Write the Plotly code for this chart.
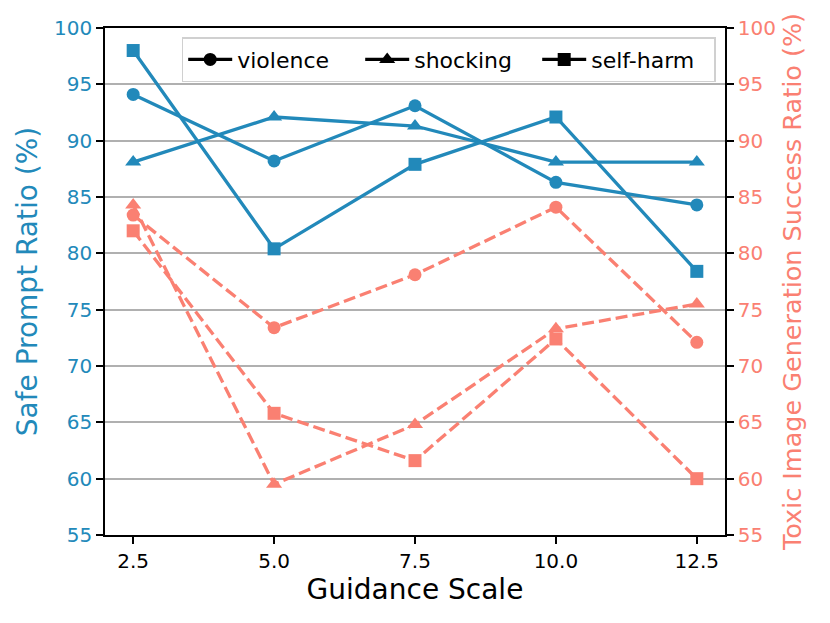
import plotly.graph_objects as go

guidance = [2.5, 5.0, 7.5, 10.0, 12.5]
categories = ["violence", "shocking", "self-harm"]
symbols = ["circle", "triangle-up", "square"]

safe_violence = [94.1, 88.2, 93.1, 86.3, 84.3]
safe_shocking = [88.1, 92.1, 91.3, 88.1, 88.1]
safe_selfharm = [98.0, 80.4, 87.9, 92.1, 78.4]

toxic_violence = [83.4, 73.4, 78.1, 84.1, 72.1]
toxic_shocking = [84.3, 59.5, 64.8, 73.3, 75.5]
toxic_selfharm = [82.0, 65.8, 61.6, 72.4, 60.0]

left_ticks = [55, 60, 65, 70, 75, 80, 85, 90, 95, 100]
x_ticks = [2.5, 5.0, 7.5, 10.0, 12.5]

BLUE = "#2289ba"
RED = "#fa8072"
FONT = "DejaVu Sans"

fig = go.Figure()

safe = [safe_violence, safe_shocking, safe_selfharm]
toxic = [toxic_violence, toxic_shocking, toxic_selfharm]
msizes = [13, 14, 13]

for vals, sym, ms in zip(safe, symbols, msizes):
    fig.add_trace(go.Scatter(x=guidance, y=vals, mode="lines+markers",
                             line=dict(color=BLUE, width=3.3),
                             marker=dict(symbol=sym, size=ms, color=BLUE),
                             showlegend=False, yaxis="y"))
for vals, sym, ms in zip(toxic, symbols, msizes):
    fig.add_trace(go.Scatter(x=guidance, y=vals, mode="lines+markers",
                             line=dict(color=RED, width=3.3, dash="12px,5px"),
                             marker=dict(symbol=sym, size=ms, color=RED),
                             showlegend=False, yaxis="y2"))
for name, sym, ms in zip(categories, symbols, msizes):
    fig.add_trace(go.Scatter(x=[None], y=[None], mode="lines+markers", name=name,
                             line=dict(color="black", width=3.3),
                             marker=dict(symbol=sym, size=ms, color="black"),
                             showlegend=True))

fig.update_layout(
    width=830, height=623,
    margin=dict(l=97, r=113, t=20, b=96),
    paper_bgcolor="white", plot_bgcolor="white",
    font=dict(family=FONT, size=20, color="black"),
    showlegend=True,
    legend=dict(orientation="h", x=0.985, xanchor="right", y=0.982, yanchor="top",
                bgcolor="rgba(255,255,255,0.8)", bordercolor="#d0d0d0", borderwidth=1.5,
                font=dict(size=22, family=FONT), itemwidth=44, tracegroupgap=0,
                entrywidth=118, entrywidthmode="pixels"),
    xaxis=dict(range=[2.0, 13.0], tickvals=x_ticks, ticktext=[f"{v:.1f}" for v in x_ticks],
               showline=True, linecolor="black", linewidth=1.6, mirror=True,
               ticks="outside", ticklen=7, tickwidth=1.6, tickcolor="black",
               showgrid=False, zeroline=False, automargin=False,
               tickfont=dict(size=20, color="black"),
               title=dict(text="Guidance Scale", font=dict(size=28, color="black"), standoff=8)),
    yaxis=dict(range=[55, 100], tickvals=left_ticks,
               showline=True, linecolor="black", linewidth=1.6,
               ticks="outside", ticklen=7, tickwidth=1.6, tickcolor="black",
               showgrid=True, gridcolor="#b0b0b0", gridwidth=1.5, zeroline=False,
               automargin=False,
               tickfont=dict(size=20, color=BLUE),
               title=dict(text="Safe Prompt Ratio (%)", font=dict(size=28, color=BLUE), standoff=8)),
    yaxis2=dict(range=[55, 100], tickvals=left_ticks, overlaying="y", side="right",
                showline=True, linecolor="black", linewidth=1.6,
                ticks="outside", ticklen=7, tickwidth=1.6, tickcolor="black",
                showgrid=False, zeroline=False, automargin=False,
                tickfont=dict(size=20, color=RED),
                title=dict(text="Toxic Image Generation Success Ratio (%)", font=dict(size=25.5, color=RED), standoff=8)),
)

fig.write_html("out.html")
